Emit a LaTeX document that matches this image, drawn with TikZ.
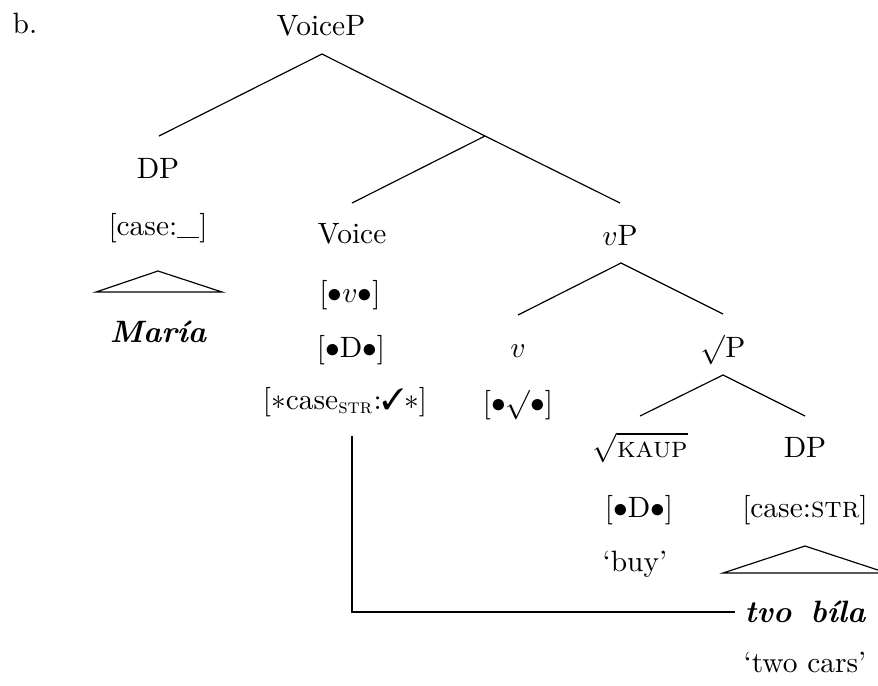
\documentclass[tikz,border=0pt]{standalone}
\usepackage{pifont}
\begin{document}
\begin{tikzpicture}[x=0.34pt,y=-0.34pt,
  lbl/.style={anchor=base,inner sep=0pt,font=\fontsize{10}{12}\selectfont},
  bi/.style={anchor=base,inner sep=0pt,font=\fontsize{10.5}{12}\selectfont\bfseries\itshape},
  edge/.style={line width=0.4pt},
  agree/.style={line width=1pt}]
\useasboundingbox (0,0) rectangle (878,685);
% labels
\node[lbl] (b) at (25,33) {b.};
\node[lbl] (voicep) at (321,35) {VoiceP};
\node[lbl] (dpA) at (158,178) {DP};
\node[lbl] (caseA) at (158,235) {[case:\rule[-1pt]{7.5pt}{0.4pt}]};
\node[bi] (maria) at (158,342) {María};
\node[lbl] (voice) at (352,243) {Voice};
\node[lbl] (fv) at (350,302) {[$\bullet$$v$$\bullet$]};
\node[lbl] (fd) at (351,357) {[$\bullet$D$\bullet$]};
\node[lbl] (fcase) at (345,409) {[$\ast$case\textsubscript{\textsc{str}}:\ding{51}$\ast$]};
\node[lbl] (vp) at (620,245) {$v$P};
\node[lbl] (v) at (518,357) {$v$};
\node[lbl] (froot) at (518,412) {[$\bullet$$\surd$$\bullet$]};
\node[lbl] (rootp) at (723,357) {$\surd$P};
\node[lbl] (kaup) at (640,457) {$\sqrt{\mbox{\textsc{kaup}}}$};
\node[lbl] (dpB) at (805,457) {DP};
\node[lbl] (fdB) at (639,517) {[$\bullet$D$\bullet$]};
\node[lbl] (caseB) at (805,517) {[case:\textsc{str}]};
\node[lbl] (buy) at (635,571) {‘buy’};
\node[bi] (tvo) at (805,622) {tvo\hspace{6.5pt}bíla};
\node[lbl] (cars) at (805,672) {‘two cars’};
% tree coordinates
\coordinate (voicepB) at (322,54);
\coordinate (dpAT) at (159,136);
\coordinate (barT) at (485,136);
\coordinate (voiceT) at (352,203);
\coordinate (vpT) at (620,203);
\coordinate (vpB) at (621,263);
\coordinate (vT) at (518,315);
\coordinate (rootpT) at (723,314);
\coordinate (rootpB) at (723,375);
\coordinate (kaupT) at (640,416);
\coordinate (dpBT) at (805,416);
% edges
\draw[edge] (dpAT) -- (voicepB) -- (barT);
\draw[edge] (voiceT) -- (barT) -- (vpT);
\draw[edge] (vT) -- (vpB) -- (rootpT);
\draw[edge] (kaupT) -- (rootpB) -- (dpBT);
% triangles
\coordinate (triA) at (158,271);
\coordinate (triAl) at (96,292);
\coordinate (triAr) at (222,292);
\draw[edge] (triA) -- (triAl) -- (triAr) -- cycle;
\coordinate (triB) at (805,546);
\coordinate (triBl) at (723,573);
\coordinate (triBr) at (887,573);
\draw[edge] (triB) -- (triBl) -- (triBr) -- cycle;
% agreement line
\coordinate (agreeTop) at (352,436);
\coordinate (agreeEnd) at (735,612);
\draw[agree] (agreeTop) |- (agreeEnd);
\end{tikzpicture}
\end{document}
